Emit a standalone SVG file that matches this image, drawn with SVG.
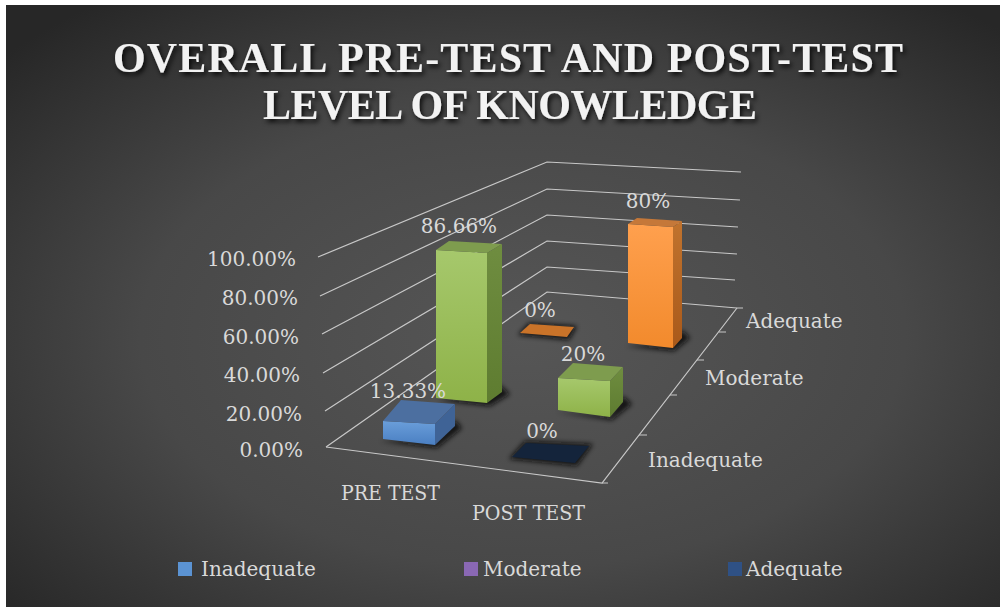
<svg xmlns="http://www.w3.org/2000/svg" width="1006" height="612" viewBox="0 0 1006 612">
<defs>
<radialGradient id="bg" cx="52%" cy="55%" r="70%">
<stop offset="0" stop-color="#565656"/>
<stop offset="0.55" stop-color="#484848"/>
<stop offset="1" stop-color="#272727"/>
</radialGradient>
<linearGradient id="blueF" x1="0" y1="0" x2="0" y2="1"><stop offset="0" stop-color="#6A9EDA"/><stop offset="1" stop-color="#4A7FC2"/></linearGradient>
<linearGradient id="greenF" x1="0" y1="0" x2="0" y2="1"><stop offset="0" stop-color="#A6C86C"/><stop offset="1" stop-color="#8EB248"/></linearGradient>
<linearGradient id="greenS" x1="0" y1="0" x2="0" y2="1"><stop offset="0" stop-color="#6F8D40"/><stop offset="1" stop-color="#5E7C30"/></linearGradient>
<linearGradient id="orangeF" x1="0" y1="0" x2="0" y2="1"><stop offset="0" stop-color="#FFA04E"/><stop offset="1" stop-color="#F28A2C"/></linearGradient>
<linearGradient id="orangeS" x1="0" y1="0" x2="0" y2="1"><stop offset="0" stop-color="#C0732E"/><stop offset="1" stop-color="#A9591A"/></linearGradient>
<filter id="tshadow" x="-10%" y="-30%" width="120%" height="160%"><feDropShadow dx="2" dy="3" stdDeviation="2.5" flood-color="#000" flood-opacity="0.85"/></filter>
<filter id="blur" x="-30%" y="-30%" width="160%" height="160%"><feGaussianBlur stdDeviation="2.5"/></filter>
<style>
.grid{fill:none;stroke:#C8C8C8;stroke-width:1.2}
.lbl{font-family:"DejaVu Serif","Liberation Serif",serif;font-size:20px;fill:#D9D9D9}
.title{font-family:"Liberation Serif","DejaVu Serif",serif;font-weight:bold;font-size:42px;fill:#F2F2F2;filter:url(#tshadow)}
.sh{fill:#111;filter:url(#blur);opacity:0.9}
</style>
</defs>
<rect x="0" y="0" width="1006" height="612" fill="#FFFFFF"/>
<rect x="6" y="5" width="994" height="602" fill="url(#bg)"/>

<g id="title">
<text class="title" x="508" y="72" text-anchor="middle" textLength="790" lengthAdjust="spacing">OVERALL PRE-TEST AND POST-TEST</text>
<text class="title" x="510" y="119" text-anchor="middle" textLength="494" lengthAdjust="spacing">LEVEL OF KNOWLEDGE</text>
</g>

<g id="gridlines">
<polyline class="grid" points="318,257 547,162 741,172"/>
<polyline class="grid" points="320,296 547,189 740,200"/>
<polyline class="grid" points="322,334 547,215 738,227"/>
<polyline class="grid" points="323,373 547,241 737,254"/>
<polyline class="grid" points="325,411 547,267 735,280"/>
<polyline class="grid" points="326,447 547,292 737,308"/>
<polyline class="grid" points="326,447 602,483 737,308"/>
<path class="grid" d="M602,483h6 M639,435h8 M670,395h7 M697,360h7 M719,332h7 M737,308h6"/>
</g>

<g id="value-axis" class="lbl" text-anchor="end">
<text x="296" y="266">100.00%</text>
<text x="298" y="305">80.00%</text>
<text x="299" y="344">60.00%</text>
<text x="300" y="382">40.00%</text>
<text x="302" y="421">20.00%</text>
<text x="303" y="457">0.00%</text>
</g>

<g id="bar-pre-adequate">
<polygon class="sh" points="518,335 529,323 577,326 569,340"/>
<polygon points="520,333 530,324 574,327 567,337" fill="#C97329"/>
</g>
<g id="bar-pre-moderate">
<polygon class="sh" points="438,400 490,406 510,394 500,385 490,395"/>
<polygon points="436,250 487,253 487,403 436,398" fill="url(#greenF)"/>
<polygon points="436,250 449,241 502,244 487,253" fill="#7E9C4E"/>
<polygon points="487,253 502,244 502,392 487,403" fill="url(#greenS)"/>
</g>
<g id="bar-pre-inadequate">
<polygon class="sh" points="380,441 437,448 462,428 455,420 436,440"/>
<polygon points="383,421 435,424 435,445 383,439" fill="url(#blueF)"/>
<polygon points="383,421 401,400 455,404 435,424" fill="#4C6FA0"/>
<polygon points="435,424 455,404 455,426 435,445" fill="#3F6396"/>
</g>
<g id="bar-post-adequate">
<polygon class="sh" points="626,346 674,351 690,338 682,330 672,344"/>
<polygon points="628,224 673,227 673,348 628,343" fill="url(#orangeF)"/>
<polygon points="628,224 637,218 682,221 673,227" fill="#C57839"/>
<polygon points="673,227 682,221 682,338 673,348" fill="url(#orangeS)"/>
</g>
<g id="bar-post-moderate">
<polygon class="sh" points="556,412 612,420 632,404 623,396 610,416"/>
<polygon points="558,378 610,381 610,417 558,410" fill="url(#greenF)"/>
<polygon points="558,378 573,363 623,367 610,381" fill="#7E9C4E"/>
<polygon points="610,381 623,367 623,402 610,417" fill="url(#greenS)"/>
</g>
<g id="bar-post-inadequate">
<polygon class="sh" points="509,459 525,441 593,444 577,466"/>
<polygon points="512,457 526,443 589,446 575,463" fill="#14243B"/>
</g>

<g id="data-labels" class="lbl" text-anchor="middle">
<text x="459" y="233">86.66%</text>
<text x="408" y="398">13.33%</text>
<text x="540" y="317">0%</text>
<text x="583" y="361">20%</text>
<text x="542" y="438">0%</text>
<text x="648" y="208">80%</text>
</g>

<g id="category-axis" class="lbl">
<text x="341" y="500" textLength="99" lengthAdjust="spacingAndGlyphs">PRE TEST</text>
<text x="472" y="520" textLength="113" lengthAdjust="spacingAndGlyphs">POST TEST</text>
</g>

<g id="series-axis" class="lbl">
<text x="746" y="328">Adequate</text>
<text x="705" y="385">Moderate</text>
<text x="648" y="467">Inadequate</text>
</g>

<g id="legend" class="lbl">
<rect x="178" y="562" width="14" height="14" fill="#5B93D3"/>
<text x="201" y="576">Inadequate</text>
<rect x="464" y="562" width="14" height="14" fill="#8A68B4"/>
<text x="483" y="576">Moderate</text>
<rect x="728" y="562" width="14" height="14" fill="#2F5185"/>
<text x="746" y="576">Adequate</text>
</g>
</svg>
